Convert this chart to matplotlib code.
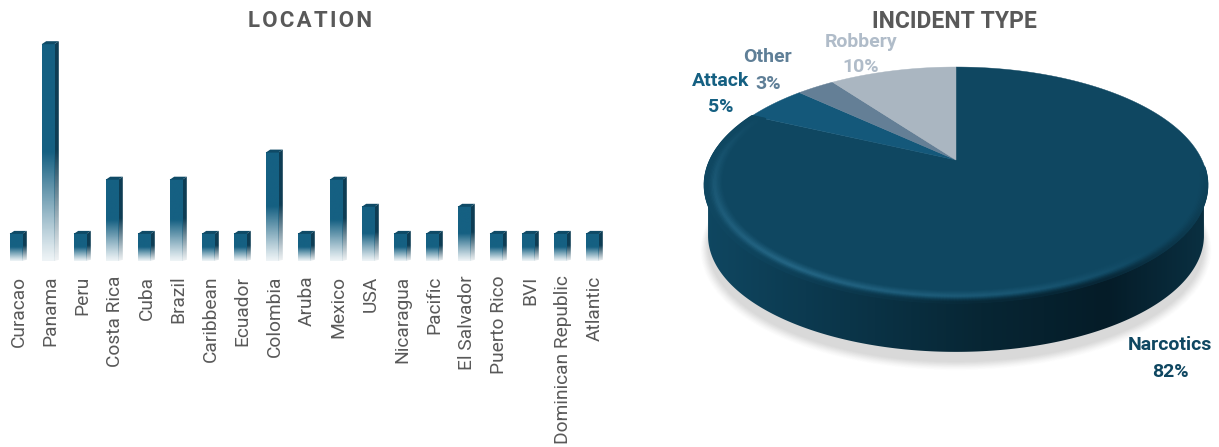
import numpy as np
import matplotlib
matplotlib.use("Agg")
import matplotlib.pyplot as plt
from matplotlib.colors import LinearSegmentedColormap, to_rgb
from matplotlib.patches import Polygon
from matplotlib.collections import LineCollection
from matplotlib.transforms import ScaledTranslation

# Incident counts by location
locations = ["Curacao", "Panama", "Peru", "Costa Rica", "Cuba", "Brazil", "Caribbean",
             "Ecuador", "Colombia", "Aruba", "Mexico", "USA", "Nicaragua", "Pacific",
             "El Salvador", "Puerto Rico", "BVI", "Dominican Republic", "Atlantic"]
location_counts = [1, 8, 1, 3, 1, 3, 1, 1, 4, 1, 3, 2, 1, 1, 2, 1, 1, 1, 1]

# Share of incidents by type, clockwise from twelve o'clock
incident_types = ["Narcotics", "Attack", "Other", "Robbery"]
incident_shares = [82, 5, 3, 10]
slice_colors = ["#0f4761", "#14587a", "#647f96", "#aab6c1"]
label_colors = ["#0f4761", "#156082", "#5f7f97", "#b0bcc9"]

W, H = 1219, 447
fig = plt.figure(figsize=(W / 100, H / 100), dpi=100, facecolor="white")
plt.rcParams["font.family"] = ["Roboto", "DejaVu Sans"]

# ---------- Location column chart ----------
BASE_Y, UNIT = 261.0, 27.1
STEP = 32.0
ax = fig.add_axes([0 / W, 1 - BASE_Y / H, 608 / W, (8 * UNIT + 21) / H])
ax.set_xlim(-0.5, 18.5)
ax.set_ylim(0, 8 + 21 / UNIT)
for s in ax.spines.values():
    s.set_visible(False)

half_w = 6.3 / STEP
depth_x = 4.5 / STEP
cap_y = 3.0 / UNIT


def fade_image(color, start):
    """Vertical colour strip, solid at the top and washing out towards the base."""
    ramp = np.linspace(1, 0, 256)
    alpha = np.clip(ramp / start, 0, 1) ** 1.1
    alpha = 0.07 + 0.93 * alpha
    rgba = np.ones((256, 1, 4))
    rgba[..., :3] = to_rgb(color)
    rgba[:, 0, 3] = alpha
    return rgba


for i, v in enumerate(location_counts):
    start = 0.5
    ax.imshow(fade_image("#156082", start), extent=(i - half_w, i + half_w, 0, v),
              aspect="auto", zorder=3, interpolation="bilinear")
    side = ax.imshow(fade_image("#0e3d54", start), extent=(i + half_w, i + half_w + depth_x, 0, v + cap_y),
                     aspect="auto", zorder=2, interpolation="bilinear")
    side.set_clip_path(Polygon([(i + half_w, 0), (i + half_w + depth_x, cap_y * 0.4),
                                (i + half_w + depth_x, v + cap_y), (i + half_w, v)],
                               transform=ax.transData))
    ax.add_patch(Polygon([(i - half_w, v), (i - half_w + depth_x, v + cap_y),
                          (i + half_w + depth_x, v + cap_y), (i + half_w, v)],
                         closed=True, fc="#0f4a66", ec="none", zorder=4))

ax.set_xticks(range(len(locations)))
ax.set_xticklabels(locations, rotation=90, fontsize=13.8, color="#595959")
ax.tick_params(axis="x", length=0, pad=10.5)
nudge = ScaledTranslation(2.5 / 100, 0, fig.dpi_scale_trans)
for lab in ax.get_xticklabels():
    lab.set_transform(lab.get_transform() + nudge)
ax.set_yticks([])
ax.set_xlim(-0.5, 18.5)
ax.set_ylim(0, 8 + 21 / UNIT)
ax.patch.set_alpha(0)

fig.text(309.5 / W, 1 - 21 / H, "\u200a".join("LOCATION"), ha="center", va="center", fontsize=16,
         fontweight="bold", color="#595959")
fig.text(954 / W, 1 - 21 / H, "INCIDENT TYPE", ha="center", va="center", fontsize=16.5,
         fontweight="bold", color="#595959")

# ---------- Incident type pie, tilted with perspective ----------
pie = fig.add_axes([0, 0, 1, 1], zorder=-1)
pie.set_xlim(0, W)
pie.set_ylim(H, 0)
pie.axis("off")

CX, CY = 956.0, 160.0
B, A, K = 246.0, 112.7, 0.212
THICK = 51.0


def project(theta, r=1.0, dy=0.0, shrink=1.0):
    """Map a clockwise angle from twelve o'clock onto the tilted disc."""
    x, y = r * np.sin(theta), r * np.cos(theta)
    d = 1 + K * y
    return CX + shrink * B * x / d, CY + dy - shrink * A * y / d


full = np.linspace(0, 2 * np.pi, 721)
top_x, top_y = project(full)
low_x, low_y = project(full, dy=THICK, shrink=0.985)

# soft ground shadow
for off, a in zip(np.linspace(16, 0, 14), np.linspace(0.012, 0.032, 14)):
    sx, sy = project(full, r=1.0 + off * 0.0018, dy=THICK + 10, shrink=0.985)
    pie.fill(sx, sy + off * 0.2, color="#8a8a8a", alpha=a, lw=0, zorder=1)

# side wall with a dark horizontal sweep
wall_stops = [(0.0, "#0f4761"), (0.2, "#0c3a50"), (0.55, "#072634"), (0.8, "#051c28"), (1.0, "#0a3042")]
wall_cmap = LinearSegmentedColormap.from_list("wall", wall_stops)
wall_img = pie.imshow(np.linspace(0, 1, 512)[None, :], cmap=wall_cmap, aspect="auto",
                      extent=(top_x.min(), top_x.max(), 360, 160), zorder=2)
left_i, right_i = np.argmin(low_x), np.argmax(low_x)
if right_i > left_i:
    left_i, right_i = right_i, left_i
clip_pts = np.column_stack([low_x[right_i:left_i + 1], low_y[right_i:left_i + 1]])
clip_pts = np.vstack([clip_pts, [[low_x[left_i], 188], [top_x.min(), 188], [top_x.max(), 188], [low_x[right_i], 188]]])
wall_img.set_clip_path(Polygon(clip_pts, closed=True, transform=pie.transData))
pie.set_xlim(0, W)
pie.set_ylim(H, 0)

# top surface slices
edges = np.cumsum([0] + incident_shares) / sum(incident_shares) * 2 * np.pi
for i, color in enumerate(slice_colors):
    th = np.linspace(edges[i], edges[i + 1], 200)
    px, py = project(th)
    pts = np.vstack([[CX, CY], np.column_stack([px, py])])
    pie.add_patch(Polygon(pts, closed=True, fc=color, ec=color, lw=0.3, zorder=3))

# bevel: a lit band around the near rim, darkening where it meets the wall
lit = np.array(to_rgb("#2f7596"))
base = np.array(to_rgb("#0f4761"))
th = np.linspace(0.52 * np.pi, 1.64 * np.pi, 330)
mid = (th[:-1] + th[1:]) / 2
wall_color = wall_cmap(np.clip((project(mid)[0] - top_x.min()) / (top_x.max() - top_x.min()), 0, 1))[:, :3]
for r, lit_amt, dark_amt in zip(np.linspace(0.93, 0.998, 14),
                                [0, .08, .18, .3, .42, .55, .65, .6, .45, .3, .15, .05, 0, 0],
                                [0, 0, 0, 0, 0, 0, 0, 0, .1, .25, .45, .65, .8, .95]):
    px, py = project(th, r=r)
    seg = np.stack([np.column_stack([px[:-1], py[:-1]]), np.column_stack([px[1:], py[1:]])], axis=1)
    # the highlight is strongest at the lower left and gone by the lower right
    lit_w = np.clip(1 - np.abs(mid - 1.2 * np.pi) / (0.44 * np.pi), 0, 1) ** 0.8
    # the wall only shows along the near half of the rim
    wall_w = np.clip(1 - np.abs(mid - np.pi) / (0.47 * np.pi), 0, 1) ** 0.6
    c = base + (lit - base) * (lit_amt * lit_w)[:, None]
    c = c + (wall_color - c) * (dark_amt * wall_w)[:, None]
    pie.add_collection(LineCollection(seg, colors=np.clip(c, 0, 1), linewidths=1.6, zorder=4, capstyle="round"))

# slice labels
label_pos = [(1170, 345, 372), (721, 81, 107), (768, 57, 84), (861, 42, 67)]
for name, share, col, (lx, y1, y2) in zip(incident_types, incident_shares, label_colors, label_pos):
    pie.text(lx, y1, name, ha="center", va="center", fontsize=14, fontweight="bold", color=col, zorder=6)
    pie.text(lx, y2, f"{share}%", ha="center", va="center", fontsize=14, fontweight="bold", color=col, zorder=6)

fig.savefig("out.png", dpi=100, facecolor="white")
